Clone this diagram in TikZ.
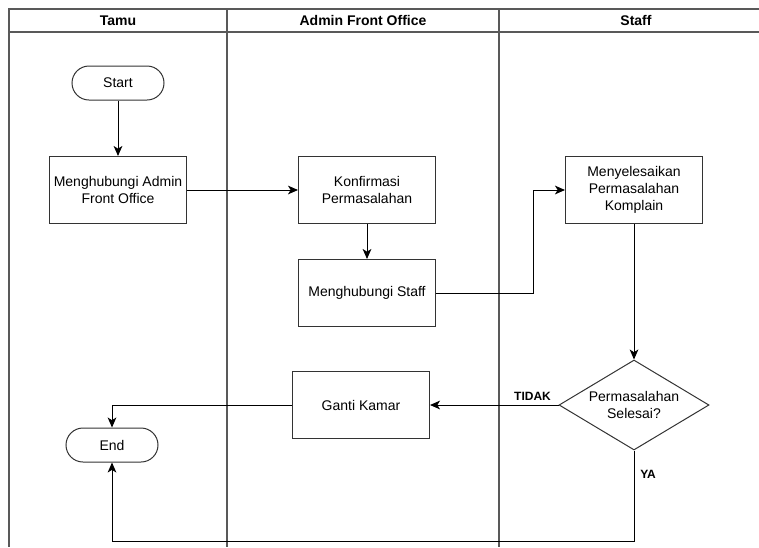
\documentclass[tikz,border=0pt]{standalone}
\usepackage{fontspec}
\setmainfont{Liberation Sans}
\usetikzlibrary{shapes.geometric, arrows, arrows.meta, positioning}
\tikzstyle{terminal} = [rectangle, rounded corners=12.75pt, minimum width=69pt, minimum height=25.5pt, text centered, draw=black!80, line width=0.75pt]
\tikzstyle{process} = [rectangle, minimum width=102.75pt, minimum height=50.25pt, align=center, draw=black!80, line width=0.75pt]
\tikzstyle{decision} = [diamond, aspect=1.667, inner sep=0pt, minimum width=112.5pt, minimum height=67.5pt, align=center, draw=black!80, line width=0.75pt]
\tikzstyle{arrow} = [line width=0.75pt,->,>={Stealth[length=7.5pt,width=6.5pt,inset=2pt]}]
\tikzstyle{lane} = [draw=black!65, line width=1pt]
\tikzstyle{answer} = [font=\fontsize{9}{11}\selectfont\bfseries]

\begin{document}
\begin{tikzpicture}[x=0.75pt, y=-0.75pt, font=\fontsize{10.5}{12.5}\selectfont]
        \useasboundingbox (0,0) rectangle (759,547);
        % swimlanes
        \draw [lane] (759,9) -- (9,9) -- (9,547);
        \draw [lane] (9,32) -- (759,32);
        \draw [lane] (227,9) -- (227,547);
        \draw [lane] (499,9) -- (499,547);
        \node (tamu) at (118,20.5) {\textbf{Tamu}};
        \node (admin) at (363,20.5) {\textbf{Admin Front Office}};
        \node (staff) at (636,20.5) {\textbf{Staff}};

        \node (start) [terminal] at (118,83) {Start};
        \node (contactadmin) [process, below of=start, node distance=80.25pt] {Menghubungi Admin\\Front Office};
        \node (confirm) [process, right of=contactadmin, node distance=186.75pt] {Konfirmasi\\Permasalahan};
        \node (contactstaff) [process, below of=confirm, node distance=77.25pt] {Menghubungi Staff};
        \node (resolve) [process, right of=confirm, node distance=200.25pt] {Menyelesaikan\\Permasalahan\\Komplain};
        \node (solved) [decision, below of=resolve, node distance=161.25pt] {Permasalahan\\Selesai?};
        \node (changeroom) [process, left of=solved, node distance=204.75pt] {Ganti Kamar};
        \node (stop) [terminal] at (112,445) {End};
        \coordinate (bend) at (533,190);
        \coordinate (yacorner) at (112,541);

        \draw [arrow] (start) -- (contactadmin);
        \draw [arrow] (contactadmin) -- (confirm);
        \draw [arrow] (confirm) -- (contactstaff);
        \draw [arrow] (contactstaff) -| (bend) -- (resolve);
        \draw [arrow] (resolve) -- (solved);
        \draw [arrow] (solved) -- node [answer, pos=0, above left, xshift=-2pt] {TIDAK} (changeroom);
        \draw [arrow] (changeroom) -| (stop);
        \draw [arrow] (solved) |- node [answer, pos=0.13, right, xshift=1pt] {YA} (yacorner) -- (stop);

        \end{tikzpicture}
\end{document}
